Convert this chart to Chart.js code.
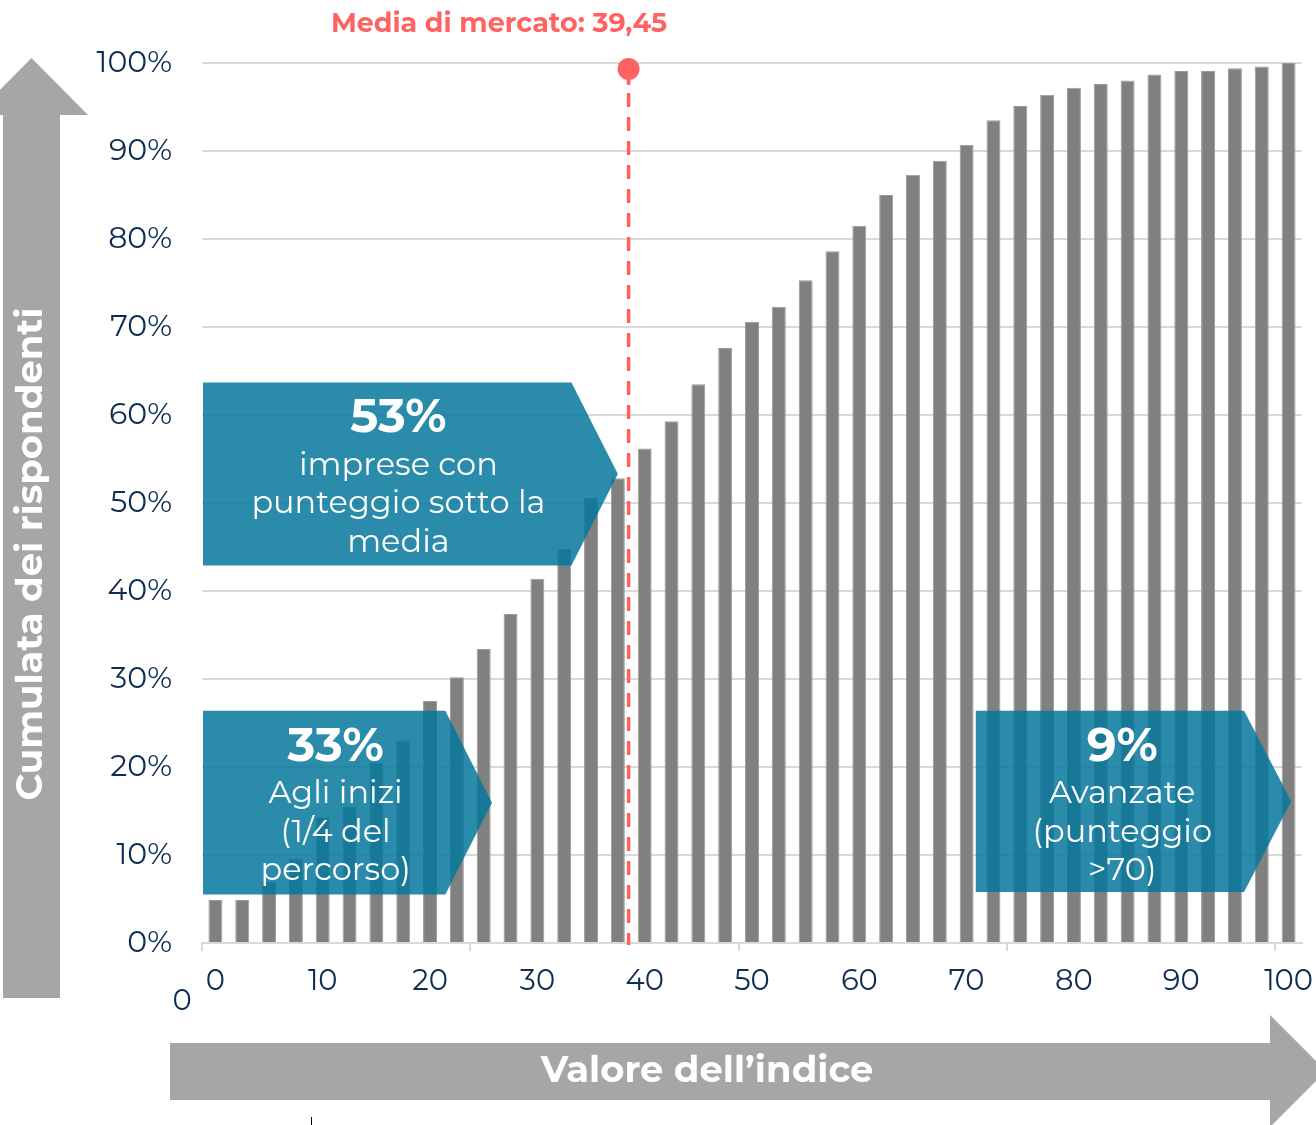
<!DOCTYPE html>
<html>
<head>
<meta charset="utf-8">
<script src="https://cdn.jsdelivr.net/npm/chart.js@4.4.1/dist/chart.umd.min.js"></script>
<style>
  html, body { margin: 0; padding: 0; background: #ffffff; }
  #wrap { width: 1316px; height: 1125px; position: relative; }
</style>
</head>
<body>
<div id="wrap"><canvas id="cumChart"></canvas></div>
<script>
const FONT = '"Montserrat", "Open Sans", sans-serif';
const NAVY = '#0f2d52';
const GREY_BAR = '#808080';
const GREY_ARROW = '#a6a6a6';
const GRID = '#d9d9d9';
const RED = '#ff6361';
const TEAL = 'rgba(5, 120, 155, 0.85)';

// valore dell'indice (passo 2,5)
const indexValues = ['0', '2.5', '5', '7.5', '10', '12.5', '15', '17.5', '20', '22.5',
  '25', '27.5', '30', '32.5', '35', '37.5', '40', '42.5', '45', '47.5',
  '50', '52.5', '55', '57.5', '60', '62.5', '65', '67.5', '70', '72.5',
  '75', '77.5', '80', '82.5', '85', '87.5', '90', '92.5', '95', '97.5', '100'];

// cumulata dei rispondenti (%)
const cumulata = [4.9, 4.9, 7.0, 9.6, 14.3, 15.5, 20.5, 23.0, 27.5, 30.2,
  33.4, 37.4, 41.4, 44.8, 50.6, 52.8, 56.2, 59.3, 63.5, 67.6,
  70.6, 72.3, 75.3, 78.6, 81.5, 85.0, 87.3, 88.9, 90.7, 93.5,
  95.1, 96.4, 97.2, 97.6, 98.0, 98.7, 99.1, 99.1, 99.4, 99.6, 100];

const yTicks = [0, 10, 20, 30, 40, 50, 60, 70, 80, 90, 100];
const xLabelStep = 10;   // etichette ogni 10 punti
const xTickEvery = 10;   // trattini ogni 10 categorie

const mediaLabel = 'Media di mercato: 39,45';
const mediaPos = 38.5;   // posizione disegnata sull'asse

// riquadri: indici categoria (x) e percentuali (y)
const boxes = [
  { start: null, flat: 13.27, tip: 15.0, top: 63.7, bottom: 42.9, textX: 6.82,
    big: '53%', lines: ['imprese con', 'punteggio sotto la', 'media'] },
  { start: null, flat: 8.57, tip: 10.31, top: 26.4, bottom: 5.5, textX: 4.48,
    big: '33%', lines: ['Agli inizi', '(1/4 del', 'percorso)'] },
  { start: 28.34, flat: 38.34, tip: 40.1, top: 26.4, bottom: 5.8, textX: 33.8,
    big: '9%', lines: ['Avanzate', '(punteggio', '>70)'] }
];

function drawBox(chart, b) {
  const ctx = chart.ctx;
  const xs = chart.scales.x, ys = chart.scales.y;
  const left = b.start === null ? chart.chartArea.left + 1 : xs.getPixelForValue(b.start);
  const flat = xs.getPixelForValue(b.flat);
  const tip = xs.getPixelForValue(b.tip);
  const top = ys.getPixelForValue(b.top);
  const bottom = ys.getPixelForValue(b.bottom);
  ctx.save();
  ctx.beginPath();
  ctx.moveTo(left, top);
  ctx.lineTo(flat, top);
  ctx.lineTo(tip, (top + bottom) / 2);
  ctx.lineTo(flat, bottom);
  ctx.lineTo(left, bottom);
  ctx.closePath();
  ctx.fillStyle = TEAL;
  ctx.fill();

  const cx = xs.getPixelForValue(b.textX);
  ctx.fillStyle = '#ffffff';
  ctx.textAlign = 'center';
  ctx.textBaseline = 'middle';
  ctx.font = '700 47px ' + FONT;
  ctx.fillText(b.big, cx, top + 36);
  ctx.font = '400 32px ' + FONT;
  b.lines.forEach((t, i) => {
    ctx.fillText(t, cx, top + 83 + i * 38.5);
  });
  ctx.restore();
}

const decor = {
  id: 'decor',
  beforeDraw(chart) {
    const ctx = chart.ctx;
    ctx.save();
    ctx.fillStyle = GREY_ARROW;
    // freccia verticale
    ctx.beginPath();
    ctx.moveTo(3, 998);
    ctx.lineTo(3, 115);
    ctx.lineTo(-25, 115);
    ctx.lineTo(31.5, 58);
    ctx.lineTo(88, 115);
    ctx.lineTo(60, 115);
    ctx.lineTo(60, 998);
    ctx.closePath();
    ctx.fill();
    // freccia orizzontale
    ctx.beginPath();
    ctx.moveTo(170, 1043);
    ctx.lineTo(1270, 1043);
    ctx.lineTo(1270, 1015);
    ctx.lineTo(1326, 1071);
    ctx.lineTo(1270, 1127);
    ctx.lineTo(1270, 1100);
    ctx.lineTo(170, 1100);
    ctx.closePath();
    ctx.fill();

    ctx.fillStyle = '#ffffff';
    ctx.textAlign = 'center';
    ctx.textBaseline = 'middle';
    ctx.font = '700 37px ' + FONT;
    ctx.fillText('Valore dell\u2019indice', 707, 1071);
    ctx.translate(31, 554);
    ctx.rotate(-Math.PI / 2);
    ctx.fillText('Cumulata dei rispondenti', 0, 0);
    ctx.restore();

    ctx.save();
    ctx.fillStyle = NAVY;
    ctx.font = '400 29px ' + FONT;
    ctx.textAlign = 'center';
    ctx.textBaseline = 'middle';
    ctx.fillText('0', 182, 1001);
    ctx.strokeStyle = '#000000';
    ctx.lineWidth = 1;
    ctx.beginPath();
    ctx.moveTo(311.5, 1117);
    ctx.lineTo(311.5, 1125);
    ctx.stroke();
    ctx.restore();
  },
  afterDatasetsDraw(chart) {
    const ctx = chart.ctx;
    boxes.forEach(b => drawBox(chart, b));

    const x = chart.scales.x.getPixelForValue(mediaPos / 2.5);
    const area = chart.chartArea;
    ctx.save();
    ctx.strokeStyle = RED;
    ctx.lineWidth = 3.5;
    ctx.setLineDash([14, 10]);
    ctx.beginPath();
    ctx.moveTo(x, area.top + 6);
    ctx.lineTo(x, area.bottom + 2);
    ctx.stroke();
    ctx.setLineDash([]);
    ctx.beginPath();
    ctx.moveTo(x, area.top + 6);
    ctx.lineTo(x, area.top + 22);
    ctx.stroke();
    ctx.beginPath();
    ctx.arc(x, area.top + 6, 11, 0, 2 * Math.PI);
    ctx.fillStyle = RED;
    ctx.fill();

    ctx.font = '700 27px ' + FONT;
    ctx.textAlign = 'center';
    ctx.textBaseline = 'middle';
    ctx.fillText(mediaLabel, 499, 24);
    ctx.restore();
  }
};

const ctx = document.getElementById('cumChart').getContext('2d');

const config = {
  type: 'bar',
  data: {
    labels: indexValues,
    datasets: [{
      label: 'Cumulata',
      data: cumulata,
      backgroundColor: GREY_BAR,
      borderColor: '#9b9b9b',
      borderWidth: 1,
      barPercentage: 0.52,
      categoryPercentage: 1.0
    }]
  },
  options: {
    responsive: true,
    maintainAspectRatio: false,
    animation: false,
    devicePixelRatio: 1,
    layout: {
      padding: { left: 0, right: 14, top: 63, bottom: 122 }
    },
    plugins: {
      legend: { display: false },
      tooltip: { enabled: false },
      title: { display: false }
    },
    scales: {
      x: {
        type: 'category',
        offset: true,
        afterFit(scale) {
          scale.height = 60;
          scale.paddingRight = 0;
        },
        grid: {
          offset: true,
          drawOnChartArea: false,
          drawTicks: true,
          tickLength: 8,
          lineWidth: 2,
          color: c => (c.index % xTickEvery === 0 ? GRID : 'rgba(0,0,0,0)')
        },
        border: { display: true, color: GRID, width: 2 },
        ticks: {
          autoSkip: false,
          maxRotation: 0,
          padding: 13,
          color: NAVY,
          font: { family: FONT, size: 29, weight: '400' },
          callback(value, index) {
            const v = parseFloat(indexValues[index]);
            return v % xLabelStep === 0 ? String(v) : '';
          }
        }
      },
      y: {
        min: 0,
        max: 100,
        afterFit(scale) { scale.width = 202; },
        afterBuildTicks(scale) {
          scale.ticks = yTicks.map(v => ({ value: v }));
        },
        grid: {
          drawTicks: false,
          lineWidth: 2,
          color: GRID
        },
        border: { display: false },
        ticks: {
          padding: 30,
          color: NAVY,
          font: { family: FONT, size: 30, weight: '400' },
          callback(value) {
            return value + '%';
          }
        }
      }
    }
  },
  plugins: [decor]
};

const chartInstance = new Chart(ctx, config);
</script>
</body>
</html>
